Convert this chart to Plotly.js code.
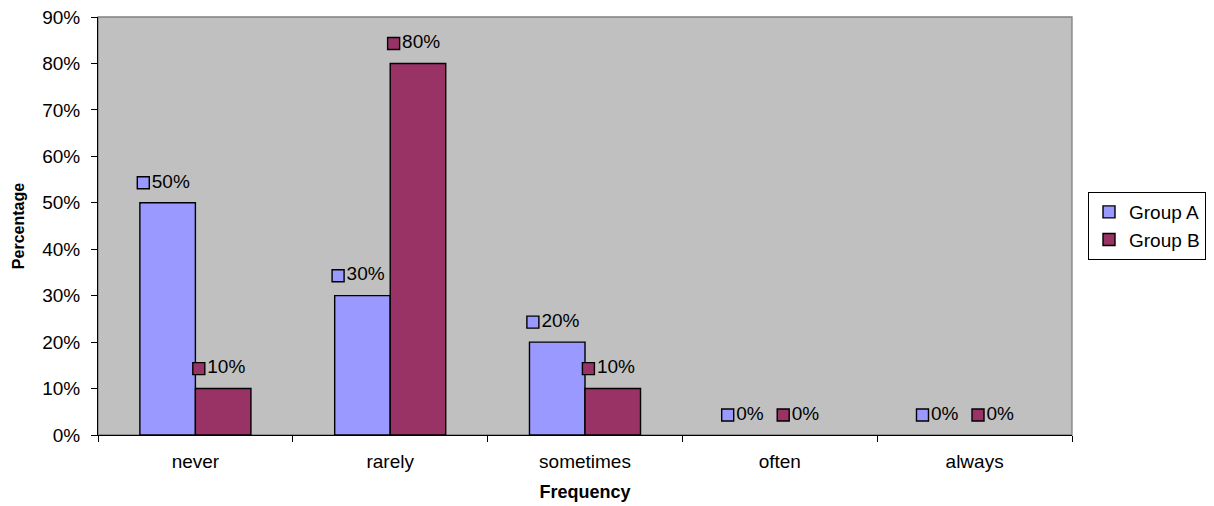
<!DOCTYPE html>
<html>
<head>
<meta charset="utf-8">
<script src="https://cdn.plot.ly/plotly-3.0.1.min.js"></script>
<style>
html,body{margin:0;padding:0;background:#fff;}
#chart{width:1214px;height:506px;}
</style>
</head>
<body>
<div id="chart"></div>
<script>
const categories = ["never", "rarely", "sometimes", "often", "always"];
const groupA = [50, 30, 20, 0, 0];
const groupB = [10, 80, 10, 0, 0];
const seriesNames = ["Group A", "Group B"];
const colors = ["#9999FF", "#993366"];
const yTickVals = [0, 10, 20, 30, 40, 50, 60, 70, 80, 90];

const bargap = 0.43;
const barW = (1 - bargap) / 2;
const labelLift = 4.3;     // label centre above bar top, in axis units
const markerShift = 0.125; // marker left of bar centre, in category units

const font = "Arial, 'Liberation Sans', sans-serif";
const fs = 19;
const series = [groupA, groupB];

const traces = [];
series.forEach((vals, s) => {
  traces.push({
    type: "bar",
    name: seriesNames[s],
    x: categories,
    y: vals,
    marker: {color: colors[s], line: {color: "#000000", width: vals.map(v => v > 0 ? 1.4 : 0)}},
    hoverinfo: "x+y"
  });
});
series.forEach((vals, s) => {
  const off = (s === 0 ? -barW / 2 : barW / 2) - markerShift;
  traces.push({
    type: "scatter",
    mode: "markers+text",
    xaxis: "x2",
    x: categories.map((c, i) => i + off),
    y: vals.map(v => v + labelLift),
    text: vals.map(v => v + "%"),
    textposition: "middle right",
    textfont: {family: font, size: fs, color: "#000000"},
    marker: {symbol: "square", size: 12, color: colors[s], line: {color: "#000000", width: 1.4}},
    showlegend: false,
    hoverinfo: "skip",
    cliponaxis: false
  });
});

const layout = {
  width: 1214,
  height: 506,
  margin: {l: 98, r: 142, t: 17, b: 71},
  paper_bgcolor: "#ffffff",
  plot_bgcolor: "#C0C0C0",
  barmode: "group",
  bargap: bargap,
  bargroupgap: 0,
  font: {family: font, size: fs, color: "#000000"},
  xaxis: {
    type: "category",
    range: [-0.5, 4.5],
    tickson: "boundaries",
    ticks: "outside",
    ticklen: 6,
    tickcolor: "#000000",
    showline: true,
    linecolor: "#000000",
    linewidth: 1,
    showgrid: false,
    zeroline: false,
    automargin: false,
    ticklabelstandoff: 9,
    tickfont: {family: font, size: fs, color: "#000000"},
    title: {text: "<b>Frequency</b>", font: {family: font, size: 18, color: "#000000"}, standoff: 14}
  },
  xaxis2: {
    overlaying: "x",
    range: [-0.5, 4.5],
    visible: false,
    fixedrange: true
  },
  yaxis: {
    range: [0, 90],
    tickvals: yTickVals,
    ticktext: yTickVals.map(v => v + "%"),
    ticks: "outside",
    ticklen: 6,
    tickcolor: "#000000",
    showline: true,
    linecolor: "#000000",
    linewidth: 1,
    showgrid: false,
    zeroline: false,
    automargin: false,
    ticklabelstandoff: 7,
    tickfont: {family: font, size: fs, color: "#000000"},
    title: {text: "<b>Percentage</b>", font: {family: font, size: 16, color: "#000000"}, standoff: 13}
  },
  shapes: [{
    type: "rect", xref: "paper", yref: "paper", x0: 0, x1: 1, y0: 0, y1: 1,
    line: {color: "#808080", width: 1.3}, layer: "below"
  }],
  legend: {
    xref: "container", yref: "container",
    x: 1088 / 1214, y: 1 - 226 / 506, xanchor: "left", yanchor: "middle",
    bgcolor: "#ffffff", bordercolor: "#000000", borderwidth: 1,
    font: {family: font, size: fs, color: "#000000"},
    itemwidth: 30,
    tracegroupgap: 0
  },
  showlegend: true
};

Plotly.newPlot("chart", traces, layout, {displayModeBar: false, staticPlot: true});
</script>
</body>
</html>
